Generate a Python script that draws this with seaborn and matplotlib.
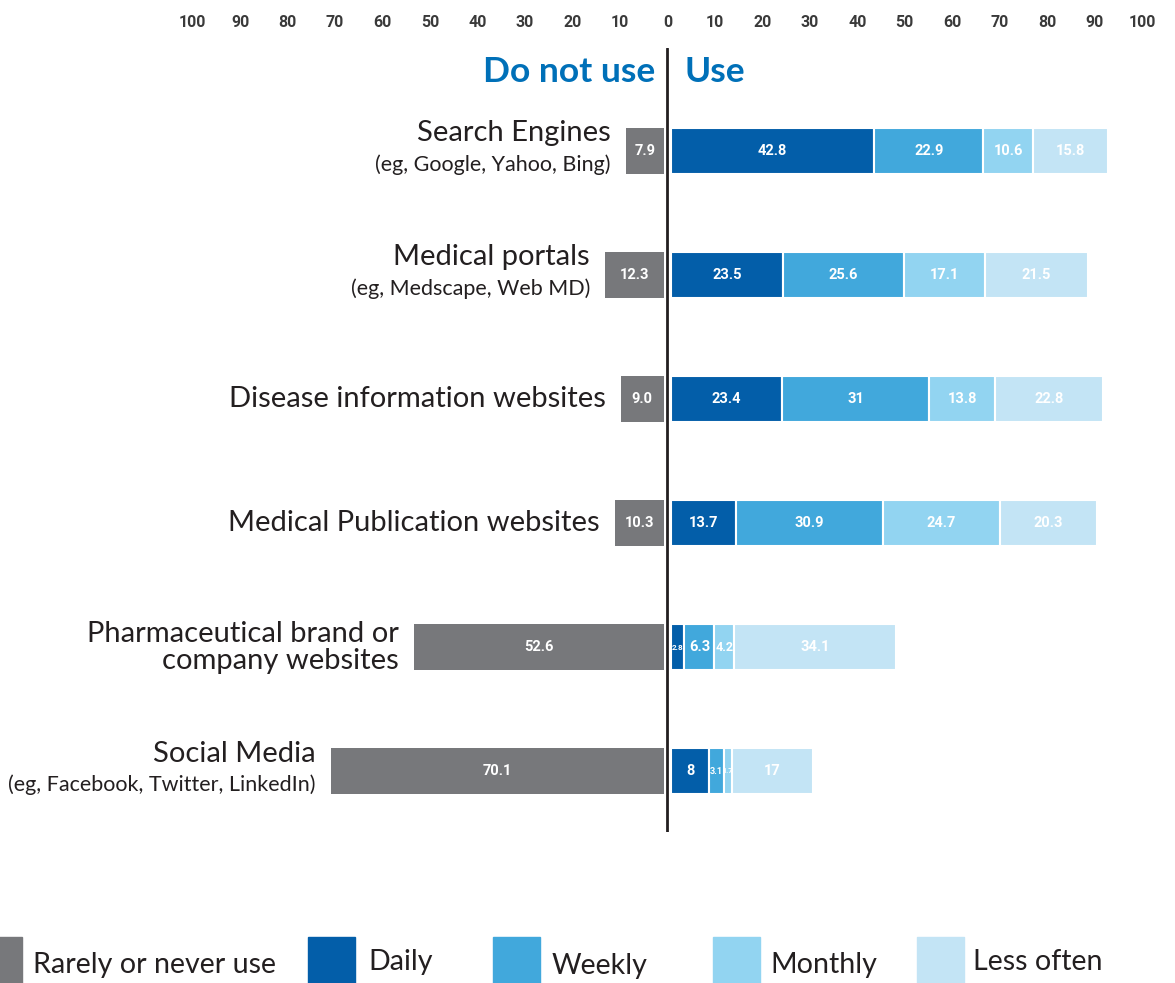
import matplotlib
matplotlib.use("Agg")
import matplotlib.pyplot as plt
from matplotlib.patches import Rectangle
import seaborn as sns
import numpy as np

# Data
categories = ["Search Engines", "Medical portals", "Disease information websites",
              "Medical Publication websites", "Pharmaceutical brand or\ncompany websites",
              "Social Media"]
subtitles = ["(eg, Google, Yahoo, Bing)", "(eg, Medscape, Web MD)", "", "", "",
             "(eg, Facebook, Twitter, LinkedIn)"]
rarely = [7.9, 12.3, 9.0, 10.3, 52.6, 70.1]
daily = [42.8, 23.5, 23.4, 13.7, 2.8, 8]
weekly = [22.9, 25.6, 31, 30.9, 6.3, 3.1]
monthly = [10.6, 17.1, 13.8, 24.7, 4.2, 1.7]
less_often = [15.8, 21.5, 22.8, 20.3, 34.1, 17]
legend_labels = ["Rarely or never use", "Daily", "Weekly", "Monthly", "Less often"]
tick_values = list(range(-100, 101, 10))

sns.set_theme(style="white")
plt.rcParams['font.family'] = ['Lato', 'DejaVu Sans']

colors = ["#77787B", "#035EA9", "#41A8DC", "#92D4F1", "#C3E4F5"]
title_blue = "#0070B8"
narrow = ['Roboto', 'DejaVu Sans']

fig = plt.figure(figsize=(11.75, 9.83), dpi=100)
ax = fig.add_axes([0.164, 0.1536, 0.808, 0.798])

y = np.arange(len(categories))
gap = 0.8
h = 0.37
px_per_unit = 949 / 200


def value_size(v, text):
    # shrink labels that would not fit inside thin segments
    width_px = v * px_per_unit
    need = len(text) * 0.5 * 1.389  # px per pt for this text
    return float(np.clip((width_px - 1) / need, 5.2, 10.5))


# left side: do not use
ax.barh(y, [-v for v in rarely], left=-gap, height=h, color=colors[0], edgecolor="none")
for yi, v in zip(y, rarely):
    ax.text(-gap - v / 2, yi, f"{v:.1f}", ha="center", va="center", color="white",
            fontsize=10.5, fontweight="bold", family=narrow)

# right side: use (stacked)
left = np.full(len(categories), gap)
for vals, col in zip([daily, weekly, monthly, less_often], colors[1:]):
    vals = np.array(vals, dtype=float)
    ax.barh(y, vals, left=left, height=h, color=col, edgecolor="white", linewidth=1.5)
    for yi, l, v in zip(y, left, vals):
        lab = f"{v:g}"
        ax.text(l + v / 2, yi, lab, ha="center", va="center", color="white",
                fontsize=value_size(v, lab), fontweight="bold", family=narrow)
    left = left + vals

# category labels
for yi, cat, sub, v in zip(y, categories, subtitles, rarely):
    xl = -gap - v - 3.2
    if sub:
        ax.text(xl, yi - 0.14, cat, ha="right", va="center", fontsize=21, color="#231F20")
        ax.text(xl, yi + 0.11, sub, ha="right", va="center", fontsize=15.5, color="#231F20")
    else:
        ax.text(xl, yi, cat, ha="right", va="center", fontsize=21, color="#231F20",
                linespacing=1.05)

# center line
ax.axvline(0, color="#231F20", linewidth=2)

# headings
ax.text(-2.6, -0.63, "Do not use", ha="right", va="center", fontsize=25.5,
        fontweight="bold", color=title_blue)
ax.text(3.7, -0.63, "Use", ha="left", va="center", fontsize=25.5,
        fontweight="bold", color=title_blue)

ax.set_xlim(-100, 100)
ax.set_ylim(5.49, -0.83)
ax.xaxis.tick_top()
ax.set_xticks(tick_values)
ax.set_xticklabels([str(abs(t)) for t in tick_values], fontsize=11.5,
                   fontweight="bold", color="#3A3A3A", family=narrow)
ax.tick_params(axis="x", length=0, pad=13)
ax.set_yticks([])
for s in ax.spines.values():
    s.set_visible(False)

# legend drawn along the bottom
sq_x = [-25, 308, 493, 713, 917]
txt_x = [33, 368, 552, 770, 973]
txt_y = [965, 962, 966, 965, 962]
for sx, tx, ty, col, lab in zip(sq_x, txt_x, txt_y, colors, legend_labels):
    fig.add_artist(Rectangle((sx / 1175, 0), 47 / 1175, 46 / 983,
                             transform=fig.transFigure, color=col, clip_on=False))
    fig.text(tx / 1175, 1 - ty / 983, lab, ha="left", va="center", fontsize=20.6,
             color="#231F20")

fig.savefig("out.png", dpi=100)
